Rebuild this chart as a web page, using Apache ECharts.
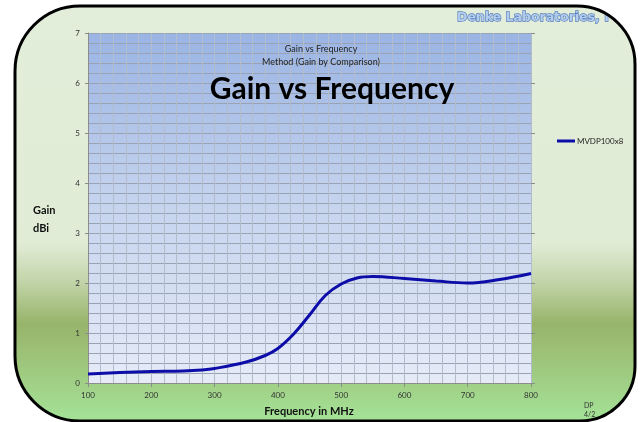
<!DOCTYPE html>
<html><head><meta charset="utf-8">
<script src="https://cdn.jsdelivr.net/npm/echarts@6/dist/echarts.min.js"></script>
<style>html,body{margin:0;padding:0;background:#fff}#c{width:641px;height:422px}</style>
</head><body><div id="c"></div>
<script>
var freqs = [100,150,200,250,280,300,350,380,400,425,450,475,500,525,550,600,650,700,750,800];
var gains = [0.18,0.21,0.23,0.24,0.26,0.29,0.42,0.55,0.69,0.98,1.36,1.75,1.98,2.10,2.13,2.09,2.04,2.00,2.07,2.19];
var seriesName = 'MVDP100x8';
var xTicks = [100,200,300,400,500,600,700,800];
var yTicks = [0,1,2,3,4,5,6,7];

var chart = echarts.init(document.getElementById('c'));
var F = 'Lato, "Open Sans", sans-serif';
var PI = Math.PI;
var MaskShape = echarts.graphic.extendShape({
  shape:{},
  buildPath:function(ctx){
    ctx.moveTo(0,0); ctx.lineTo(641,0); ctx.lineTo(641,422); ctx.lineTo(0,422); ctx.closePath();
    ctx.moveTo(80,6);
    ctx.arc(80,71,65,-PI/2,-PI,true);
    ctx.lineTo(15,356);
    ctx.arc(80,356,65,PI,PI/2,true);
    ctx.lineTo(580,421);
    ctx.arc(580,366,55,PI/2,0,true);
    ctx.lineTo(635,64);
    ctx.arc(577,64,58,0,-PI/2,true);
    ctx.closePath();
  }
});
echarts.graphic.registerShape('frameMask', MaskShape);

var frameFill = new echarts.graphic.LinearGradient(0,0,0,1,[
  {offset:0,color:'#e3eeda'},{offset:0.57,color:'#e1ecd7'},{offset:0.66,color:'#c4d6ab'},
  {offset:0.765,color:'#98b46b'},{offset:0.85,color:'#9dc47a'},{offset:1,color:'#a4e398'}]);
var plotFill = new echarts.graphic.LinearGradient(0,0,0,1,[
  {offset:0,color:'#9ab4e4'},{offset:0.5,color:'#c6d4ee'},{offset:1,color:'#e6ebf7'}]);

function txt(x,y,s,font,fill,align,extra){
  var st={text:s,font:font,fill:fill,align:align||'left',verticalAlign:'middle'};
  if(extra){for(var k in extra) st[k]=extra[k];}
  return {type:'text',z:5,x:x,y:y,silent:true,style:st};
}

chart.setOption({
  animation:false,
  graphic:[
    {type:'rect',z:-10,silent:true,shape:{x:15,y:6,width:620,height:415,r:[65,58,55,65]},style:{fill:frameFill,stroke:null}},
    txt(457,18,'Denke Laboratories, I','bold 12.5px "DejaVu Sans", sans-serif','#b3cdee','left',{stroke:'#5a80bd',lineWidth:1.3}),
    txt(33,210,'Gain','bold 11px '+F,'#111'),
    txt(33,228,'dBi','bold 11px '+F,'#111'),
    txt(309,411,'Frequency in MHz','bold 11px '+F,'#111','center'),
    txt(584,406,'DP','7px '+F,'#333'),
    txt(584,415,'4/2','7px '+F,'#333'),
    {type:'frameMask',z:20,silent:true,shape:{},style:{fill:'#ffffff',stroke:null}},
    {type:'rect',z:21,silent:true,shape:{x:15,y:6,width:620,height:415,r:[65,58,55,65]},style:{fill:null,stroke:'#000',lineWidth:3}}
  ],
  title:[
    {text:'Gain vs Frequency',left:316,top:40,textAlign:'center',textStyle:{fontFamily:F,fontSize:9,fontWeight:'normal',color:'#222'}},
    {text:'Method (Gain by Comparison)',left:316,top:53,textAlign:'center',textStyle:{fontFamily:F,fontSize:9,fontWeight:'normal',color:'#222'}},
    {text:'Gain vs Frequency',left:327,top:69,textAlign:'center',textStyle:{fontFamily:F,fontSize:30,fontWeight:'bold',color:'#000'}}
  ],
  legend:{left:557,top:137,padding:0,itemWidth:18,itemHeight:3,itemGap:2,icon:'rect',
    textStyle:{fontFamily:F,fontSize:8,color:'#222',padding:[0,0,0,-3]},data:[seriesName]},
  grid:{left:88,right:110,top:33,bottom:39,show:true,backgroundColor:plotFill,borderWidth:0},
  xAxis:{type:'value',min:xTicks[0],max:xTicks[xTicks.length-1],interval:100,
    axisLine:{show:true,lineStyle:{color:'#8c8c8c'}},
    axisTick:{show:true,length:4,lineStyle:{color:'#8c8c8c'}},
    axisLabel:{fontFamily:F,fontSize:8,color:'#333',margin:8},
    splitLine:{show:true,lineStyle:{color:'#b3bccb',width:1}},
    minorTick:{show:false,splitNumber:5},
    minorSplitLine:{show:true,lineStyle:{color:'#b3bccb',width:1}}},
  yAxis:[{type:'value',min:yTicks[0],max:yTicks[yTicks.length-1],interval:1,
    axisLine:{show:true,lineStyle:{color:'#8c8c8c'}},
    axisTick:{show:true,length:3,lineStyle:{color:'#8c8c8c'}},
    axisLabel:{fontFamily:F,fontSize:8,color:'#333',margin:8},
    splitLine:{show:true,lineStyle:{color:'#9aa3b3',width:1}},
    minorTick:{show:false,splitNumber:5},
    minorSplitLine:{show:true,lineStyle:{color:'#9aa3b3',width:1}}},
   {type:'value',position:'right',min:0,max:7,interval:1,
    axisLine:{show:false},axisTick:{show:true,length:4,lineStyle:{color:'#8c8c8c'}},
    axisLabel:{show:false},splitLine:{show:false}}],
  series:[{name:seriesName,type:'line',smooth:0.4,showSymbol:false,
    data:freqs.map(function(f,i){return [f,gains[i]];}),
    lineStyle:{color:'#0c0ca8',width:3},itemStyle:{color:'#0c0ca8'}}]
});
</script></body></html>
